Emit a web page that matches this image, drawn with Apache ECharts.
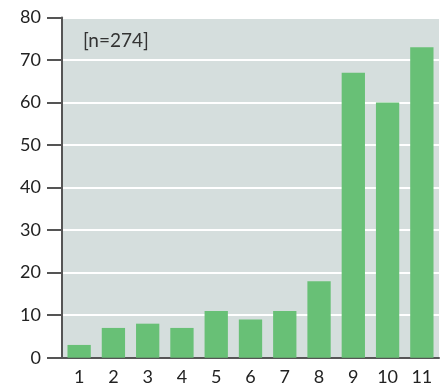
<!DOCTYPE html>
<html><head><meta charset="utf-8">
<script src="https://cdn.jsdelivr.net/npm/echarts@6/dist/echarts.min.js"></script>
<style>html,body{margin:0;padding:0;background:#fff}#c{width:440px;height:388px}</style>
</head><body><div id="c"></div>
<script>
const categories = ['1','2','3','4','5','6','7','8','9','10','11'];
const values = [3, 7, 8, 7, 11, 9, 11, 18, 67, 60, 73];
const annotation = '[n=274]';

const chart = echarts.init(document.getElementById('c'), null, {renderer:'canvas'});
chart.setOption({
  animation: false,
  backgroundColor: '#ffffff',
  grid: {left: 62, right: 1, top: 17.5, bottom: 30.3, show: true, backgroundColor: '#d5dedd', borderWidth: 0},
  xAxis: {
    type: 'category', data: categories,
    axisLine: {show: true, lineStyle: {color: '#555555', width: 2}},
    axisTick: {show: false},
    axisLabel: {color: '#222', fontSize: 18, fontFamily: 'Lato', margin: 10}
  },
  yAxis: {
    type: 'value', min: 0, max: 80, interval: 10,
    axisLine: {show: true, lineStyle: {color: '#555555', width: 2}},
    axisTick: {show: true, length: 15, lineStyle: {color: '#555555', width: 2}},
    axisLabel: {color: '#222', fontSize: 18, fontFamily: 'Lato', margin: 21},
    splitLine: {show: true, lineStyle: {color: '#ffffff', width: 2}}
  },
  graphic: [{
    type: 'text', left: 83, top: 31,
    style: {text: annotation, fill: '#333', fontSize: 19, fontFamily: 'Lato'}
  }],
  series: [{
    type: 'bar', data: values, barCategoryGap: '32%',
    itemStyle: {color: '#68c076'}
  }]
});
</script></body></html>
